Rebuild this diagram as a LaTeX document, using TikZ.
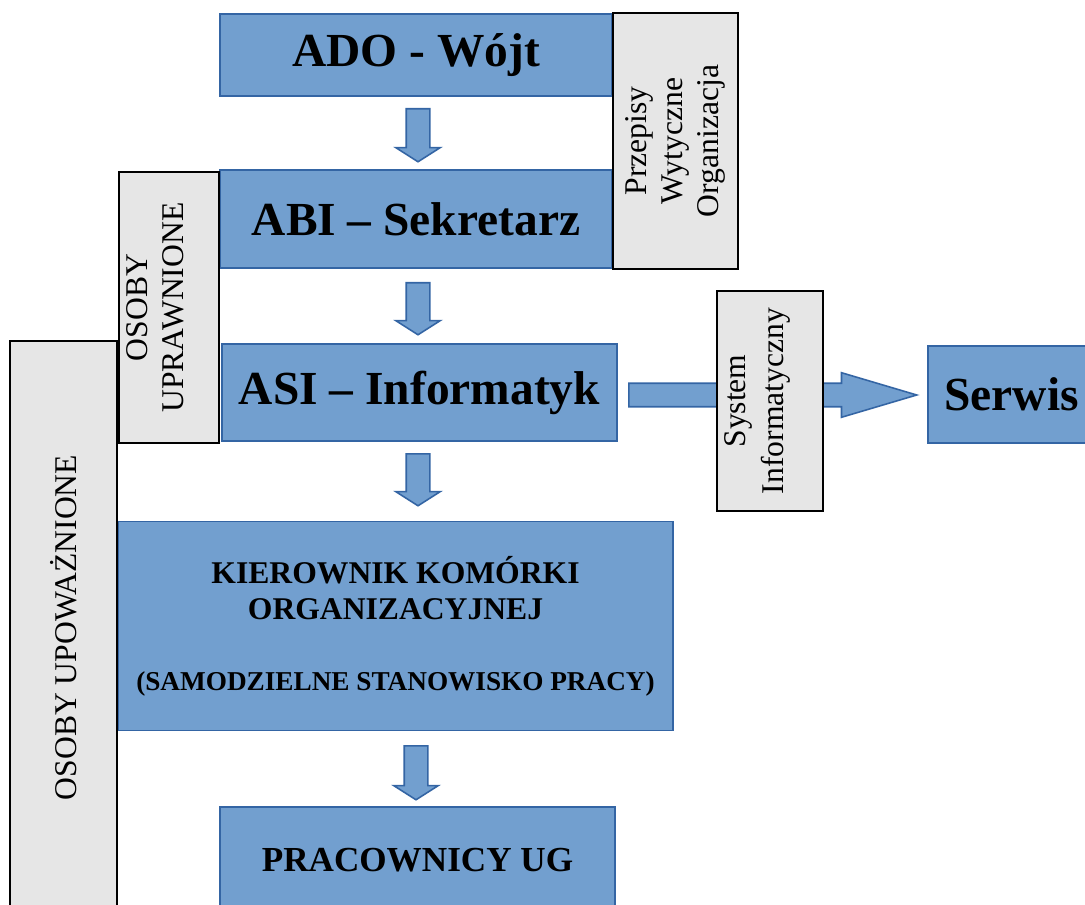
\documentclass[tikz,border=0pt]{standalone}
\usepackage{fontspec}
\setmainfont{Liberation Serif}
\usetikzlibrary{shapes.arrows}
\definecolor{boxblue}{HTML}{729FCF}
\definecolor{lineblue}{HTML}{3465A4}
\definecolor{boxgray}{HTML}{E6E6E6}
\begin{document}
\begin{tikzpicture}[x=0.02cm, y=-0.02cm]

        % Define custom styles for boxes and block arrows
        \tikzset{
          bluebox/.style={rectangle, draw=lineblue, fill=boxblue, line width=0.9pt, inner sep=0pt, align=center, font=\bfseries},
          graybox/.style={rectangle, draw=black, fill=boxgray, line width=0.9pt, inner sep=0pt, align=center, rotate=90, font=\fontsize{18}{20.5}\selectfont},
          blockarrow/.style={single arrow, draw=lineblue, fill=boxblue, line width=0.9pt, inner xsep=0pt, inner ysep=0.22cm, single arrow head extend=0.21cm, anchor=tail}
        }

        \clip (0,0) rectangle (1085,905);

        % Main chain of boxes
        \node[bluebox, minimum width=7.84cm, minimum height=1.64cm, font=\fontsize{27}{32}\selectfont\bfseries] (ado) at (416,55) {ADO - Wójt};
        \node[bluebox, minimum width=7.84cm, minimum height=1.96cm, font=\fontsize{27}{32}\selectfont\bfseries] (abi) at (416,219) {ABI – Sekretarz};
        \node[bluebox, minimum width=7.9cm, minimum height=1.94cm, font=\fontsize{27}{32}\selectfont\bfseries] (asi) at (419.5,392.5) {ASI – Informatyk};
        \node[bluebox, minimum width=11.1cm, minimum height=4.18cm, font=\fontsize{18}{20.5}\selectfont\bfseries] (kier) at (395.5,626) {KIEROWNIK KOMÓRKI\\ORGANIZACYJNEJ\\[20pt]{\fontsize{15.5}{18}\selectfont(SAMODZIELNE STANOWISKO PRACY)}};
        \node[bluebox, minimum width=7.9cm, minimum height=2.12cm, font=\fontsize{20}{24}\selectfont\bfseries] (prac) at (417.5,860) {PRACOWNICY UG};
        \node[bluebox, minimum width=3.34cm, minimum height=1.94cm, font=\fontsize{27}{32}\selectfont\bfseries] (serwis) at (1011.5,394.5) {Serwis};

        % Block arrows between the boxes
        \node[blockarrow, rotate=-90, minimum height=1.06cm, single arrow tip angle=115] (a1) at (418,108) {};
        \node[blockarrow, rotate=-90, minimum height=1.04cm, single arrow tip angle=115] (a2) at (418,282) {};
        \node[blockarrow, rotate=-90, minimum height=1.04cm, single arrow tip angle=115] (a3) at (418,453) {};
        \node[blockarrow, rotate=-90, minimum height=1.08cm, single arrow tip angle=115] (a4) at (416,745) {};
        \node[blockarrow, minimum height=5.76cm, single arrow tip angle=33] (a5) at (628,395) {};

        % Side boxes with vertical text
        \node[graybox, minimum width=5.12cm, minimum height=2.5cm] (przepisy) at (675.5,141) {Przepisy\\Wytyczne\\Organizacja};
        \node[graybox, minimum width=5.42cm, minimum height=2cm] (uprawnione) at (169,307.5) {\raisebox{1.5pt}[0pt][0pt]{\begin{tabular}{@{}c@{}}OSOBY\\UPRAWNIONE\end{tabular}}};
        \node[graybox, minimum width=11.46cm, minimum height=2.14cm] (upowaznione) at (63.5,627.5) {OSOBY UPOWAŻNIONE};
        \node[graybox, minimum width=4.4cm, minimum height=2.12cm] (system) at (770,401) {\raisebox{3pt}[0pt][0pt]{\begin{tabular}{@{}c@{}}System\\[1.5pt]Informatyczny\end{tabular}}};

\end{tikzpicture}
\end{document}
